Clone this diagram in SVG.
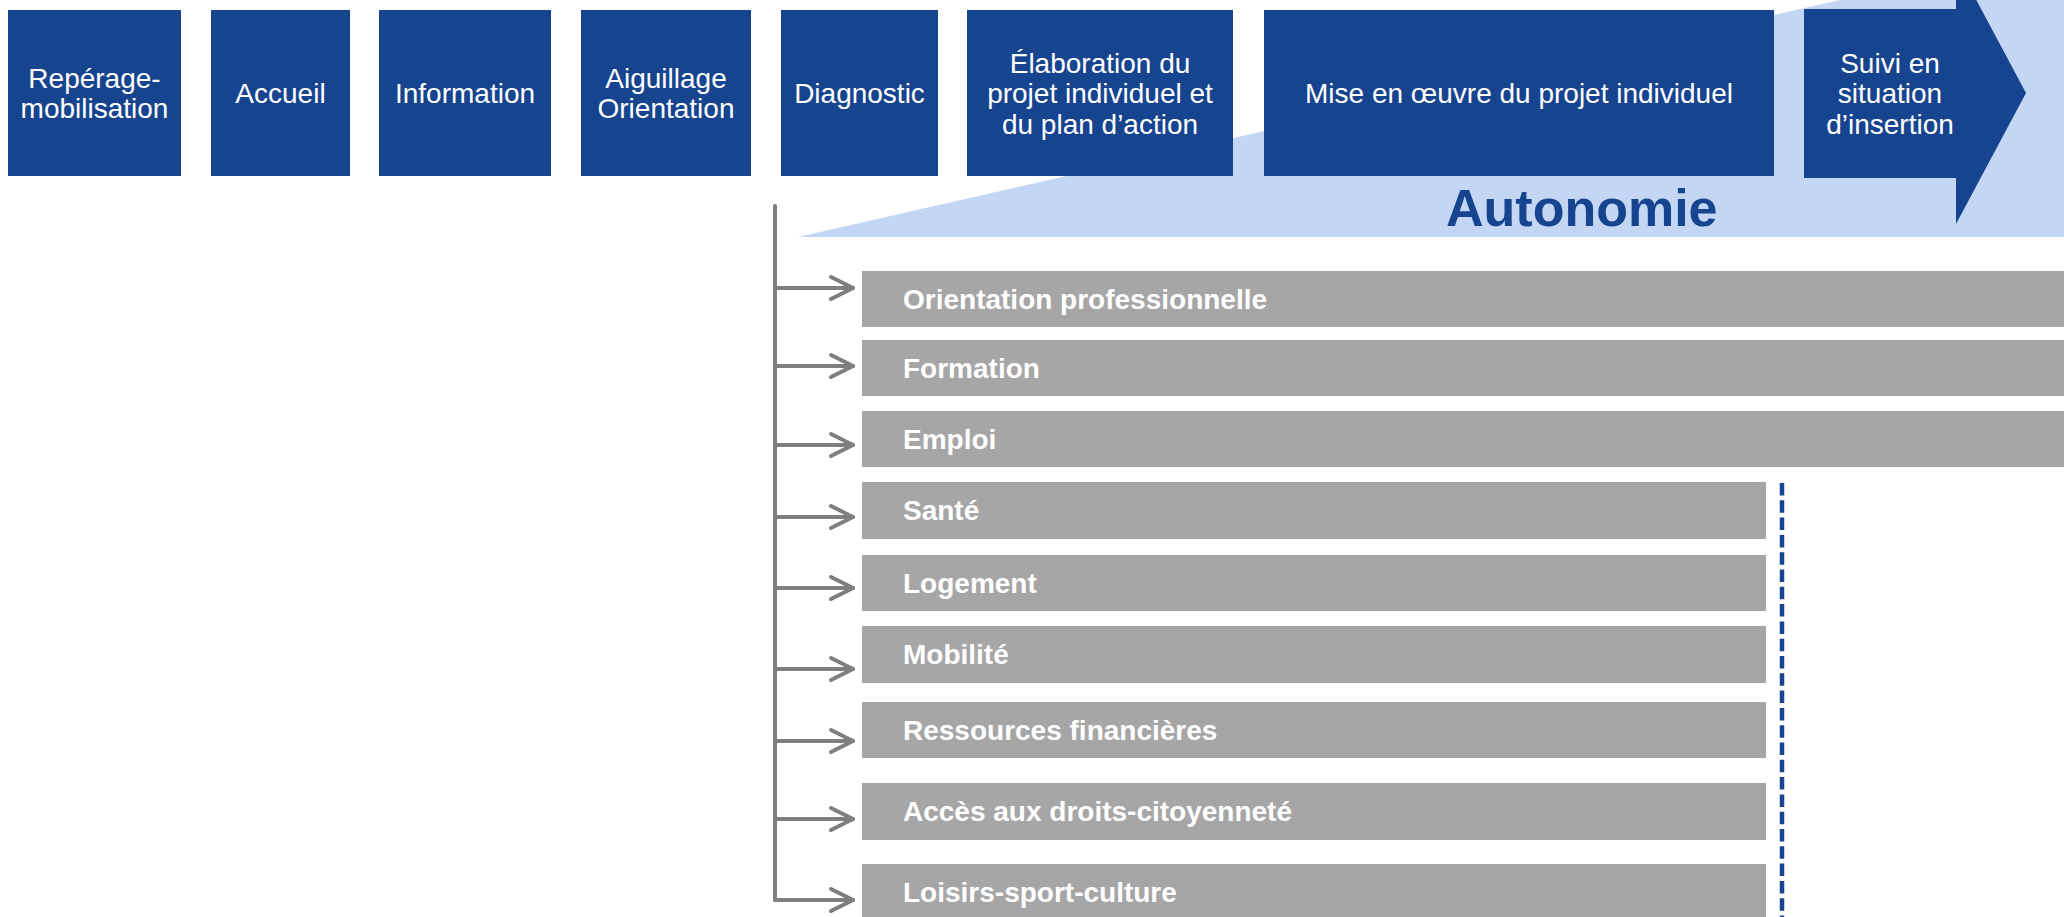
<svg xmlns="http://www.w3.org/2000/svg" width="2064" height="917" viewBox="0 0 2064 917">
<style>
.box{fill:#17448F}
.bt{font-family:"Liberation Sans",Arial,sans-serif;font-size:28px;fill:#FFFFFF;text-anchor:middle}
.bar{fill:#A6A6A6}
.bl{font-family:"Liberation Sans",Arial,sans-serif;font-size:28px;font-weight:bold;fill:#FFFFFF}
.conn{fill:none;stroke:#7F7F7F;stroke-width:4;stroke-linecap:round;stroke-linejoin:round}
</style>
<defs>
<marker id="chev" markerUnits="userSpaceOnUse" viewBox="-28 -16 32 32" markerWidth="32" markerHeight="32" refX="0" refY="0" orient="auto">
<path d="M-22,-11 L0,0 L-22,11" fill="none" stroke="#7F7F7F" stroke-width="4" stroke-linecap="round" stroke-linejoin="round"/>
</marker>
</defs>
<rect x="0" y="0" width="2064" height="917" fill="#FFFFFF"/>
<g id="autonomie">
<polygon points="798,237 1840,0 2064,0 2064,237" fill="#C3D6F4"/>
<text x="1446" y="226" font-family="Liberation Sans,Arial,sans-serif" font-size="52" font-weight="bold" fill="#17448F">Autonomie</text>
</g>
<g id="step1"><rect class="box" x="8" y="10" width="173" height="166"/><text class="bt" x="94.5"><tspan x="94.5" y="88">Repérage-</tspan><tspan x="94.5" y="118">mobilisation</tspan></text></g>
<g id="step2"><rect class="box" x="211" y="10" width="139" height="166"/><text class="bt" x="280.5" y="103">Accueil</text></g>
<g id="step3"><rect class="box" x="379" y="10" width="172" height="166"/><text class="bt" x="465" y="103">Information</text></g>
<g id="step4"><rect class="box" x="581" y="10" width="170" height="166"/><text class="bt" x="666"><tspan x="666" y="88">Aiguillage</tspan><tspan x="666" y="118">Orientation</tspan></text></g>
<g id="step5"><rect class="box" x="781" y="10" width="157" height="166"/><text class="bt" x="859.5" y="103">Diagnostic</text></g>
<g id="step6"><rect class="box" x="967" y="10" width="266" height="166"/><text class="bt" x="1100"><tspan x="1100" y="72.5">Élaboration du</tspan><tspan x="1100" y="103">projet individuel et</tspan><tspan x="1100" y="133.5">du plan d’action</tspan></text></g>
<g id="step7"><rect class="box" x="1264" y="10" width="510" height="166"/><text class="bt" x="1519" y="103">Mise en œuvre du projet individuel</text></g>
<g id="step8"><polygon class="box" points="1804,9 1956,9 1956,-38 2026,93 1956,224 1956,178 1804,178"/><text class="bt" x="1890"><tspan x="1890" y="72.5">Suivi en</tspan><tspan x="1890" y="103">situation</tspan><tspan x="1890" y="133.5">d’insertion</tspan></text></g>
<g id="bar1"><rect class="bar" x="862" y="271" width="1202" height="56"/><text class="bl" x="903" y="309">Orientation professionnelle</text></g>
<g id="bar2"><rect class="bar" x="862" y="340" width="1202" height="56"/><text class="bl" x="903" y="378">Formation</text></g>
<g id="bar3"><rect class="bar" x="862" y="411" width="1202" height="56"/><text class="bl" x="903" y="449">Emploi</text></g>
<g id="bar4"><rect class="bar" x="862" y="482" width="904" height="57"/><text class="bl" x="903" y="520">Santé</text></g>
<g id="bar5"><rect class="bar" x="862" y="555" width="904" height="56"/><text class="bl" x="903" y="593">Logement</text></g>
<g id="bar6"><rect class="bar" x="862" y="626" width="904" height="57"/><text class="bl" x="903" y="664">Mobilité</text></g>
<g id="bar7"><rect class="bar" x="862" y="702" width="904" height="56"/><text class="bl" x="903" y="740">Ressources financières</text></g>
<g id="bar8"><rect class="bar" x="862" y="783" width="904" height="57"/><text class="bl" x="903" y="821">Accès aux droits-citoyenneté</text></g>
<g id="bar9"><rect class="bar" x="862" y="864" width="904" height="60"/><text class="bl" x="903" y="902">Loisirs-sport-culture</text></g>
<g id="connectors">
<path class="conn" d="M775,206 V900" stroke-linecap="butt"/>
<path class="conn" d="M775,288 H853" marker-end="url(#chev)"/>
<path class="conn" d="M775,366 H853" marker-end="url(#chev)"/>
<path class="conn" d="M775,445 H853" marker-end="url(#chev)"/>
<path class="conn" d="M775,517 H853" marker-end="url(#chev)"/>
<path class="conn" d="M775,588 H853" marker-end="url(#chev)"/>
<path class="conn" d="M775,669 H853" marker-end="url(#chev)"/>
<path class="conn" d="M775,741 H853" marker-end="url(#chev)"/>
<path class="conn" d="M775,819 H853" marker-end="url(#chev)"/>
<path class="conn" d="M775,900 H853" marker-end="url(#chev)"/>
<line x1="1782" y1="483" x2="1782" y2="917" stroke="#17448F" stroke-width="4.5" stroke-dasharray="12.5 4.8"/>
</g>
</svg>
